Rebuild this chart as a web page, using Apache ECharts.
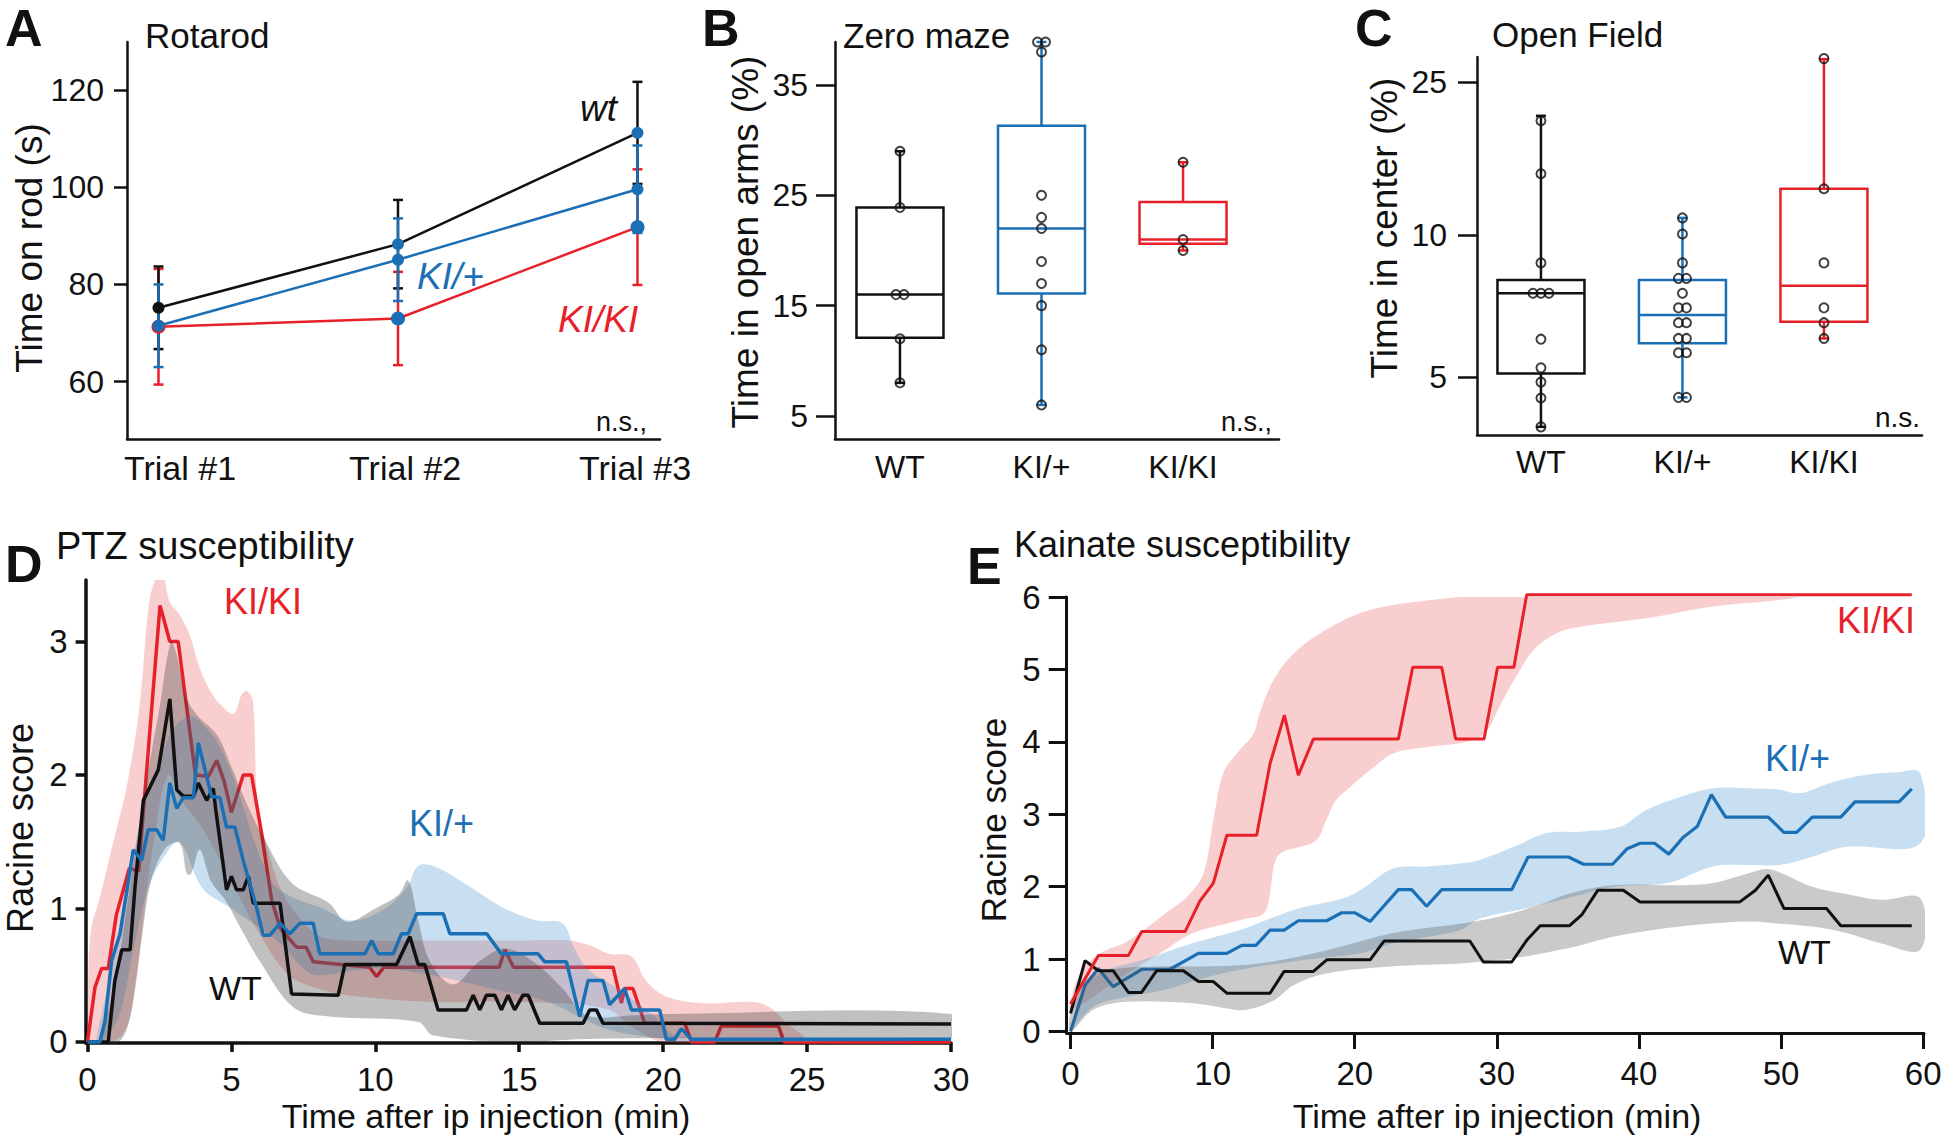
<!DOCTYPE html>
<html><head><meta charset="utf-8">
<script src="https://cdn.jsdelivr.net/npm/echarts@6/dist/echarts.min.js"></script>
<style>html,body{margin:0;padding:0;background:#fff}#c{width:1950px;height:1139px}</style>
</head><body><div id="c"></div>
<script>
// ================= DATA =================
// Panel A – Rotarod (mean ± SEM)
const trialNames = ['Trial #1', 'Trial #2', 'Trial #3'];
const rotarodWT = [75.2, 88.3, 111.2];
const rotarodWTsem = [8.5, 9.1, 10.5];
const rotarodHet = [71.5, 85.1, 99.6];
const rotarodHetSem = [8.5, 8.5, 9.0];
const rotarodHom = [71.3, 73.0, 91.8];
const rotarodHomSem = [11.9, 9.6, 11.9];

// Panel B – Zero maze (% time in open arms). box = [min, Q1, median, Q3, max]
const groupNames = ['WT', 'KI/+', 'KI/KI'];
const mazeBoxWT = [8.0, 12.1, 16.0, 23.9, 29.0];
const mazeBoxHet = [6.0, 16.1, 22.0, 31.3, 38.9];
const mazeBoxHom = [20.0, 20.6, 21.0, 24.4, 28.0];
const mazePtsWT = [29.0, 23.9, 16.0, 16.0, 12.0, 8.0];
const mazePtsHet = [38.9, 38.9, 38.0, 25.0, 23.0, 22.0, 19.0, 17.0, 15.0, 11.0, 6.0];
const mazePtsHom = [28.0, 21.0, 20.0];

// Panel C – Open field (% time in center)
const fieldBoxWT = [4.13, 5.08, 7.35, 7.86, 20.2];
const fieldBoxHet = [4.61, 5.79, 6.61, 7.86, 11.0];
const fieldBoxHom = [5.92, 6.4, 7.64, 13.0, 28.9];
const fieldPtsWT = [19.6, 14.2, 8.6, 7.35, 7.35, 7.35, 5.9, 5.2, 4.9, 4.6, 4.13];
const fieldPtsHet = [11.0, 10.05, 8.6, 7.93, 7.93, 7.35, 6.84, 6.84, 6.37, 6.37, 5.92, 5.92, 5.55, 5.55, 4.61, 4.61];
const fieldPtsHom = [29.0, 13.0, 8.6, 6.84, 6.37, 5.92];
const fieldTicks = [5, 10, 25];

// Panel D – PTZ susceptibility, [time (min), Racine score]
const ptzHom = [[0,0],[0.26,0.41],[0.49,0.55],[0.72,0.55],[1.0,0.95],[1.45,1.3],[1.78,1.28],[1.9,1.62],[2.52,3.27],[2.86,3.0],[3.15,3.0],[3.45,2.5],[3.75,2.0],[4.2,1.99],[4.49,2.11],[4.75,1.95],[5.0,1.72],[5.41,2.0],[5.7,2.0],[6.05,1.56],[6.4,1.06],[6.7,0.85],[7.26,0.71],[7.6,0.71],[7.84,0.6],[9.8,0.56],[10.04,0.49],[10.3,0.56],[14.3,0.56],[14.5,0.69],[14.8,0.56],[18.26,0.56],[18.55,0.29],[18.66,0.4],[18.95,0.4],[19.36,0.14],[20.75,0.14],[20.98,0],[21.79,0],[22.02,0.12],[24.0,0.12],[24.2,0],[30,0]];
const ptzHet = [[0,0],[0.43,0],[0.61,0.16],[0.84,0.61],[1.13,0.81],[1.59,1.44],[1.88,1.36],[2.11,1.59],[2.4,1.59],[2.63,1.51],[2.86,1.94],[3.1,1.75],[3.33,1.83],[3.68,1.83],[3.85,2.24],[4.14,1.99],[4.31,1.84],[4.6,1.83],[4.83,1.61],[5.12,1.61],[5.41,1.36],[5.87,1.01],[6.1,0.8],[6.34,0.8],[6.69,0.89],[7.03,0.81],[7.38,0.89],[7.84,0.89],[8.07,0.66],[9.64,0.66],[9.87,0.76],[10.1,0.66],[10.62,0.66],[10.91,0.81],[11.14,0.81],[11.43,0.96],[12.36,0.96],[12.59,0.81],[13.87,0.81],[14.38,0.66],[15.65,0.66],[15.89,0.6],[16.64,0.6],[17.1,0.19],[17.39,0.46],[17.91,0.46],[18.14,0.28],[18.66,0.4],[18.9,0.24],[19.88,0.24],[20.11,0.02],[20.4,0.02],[20.63,0.1],[20.98,0.02],[30,0.02]];
const ptzWT = [[0,0],[0.72,0],[0.95,0.46],[1.19,0.69],[1.48,0.69],[1.65,1.16],[1.94,1.81],[2.17,1.91],[2.46,2.04],[2.86,2.57],[3.1,1.89],[3.33,1.84],[3.68,1.84],[3.85,1.94],[4.14,1.81],[4.37,1.9],[4.45,1.75],[4.83,1.14],[5.0,1.24],[5.18,1.14],[5.41,1.14],[5.59,1.24],[5.76,1.04],[6.69,1.04],[7.09,0.36],[8.71,0.35],[8.94,0.58],[10.74,0.58],[11.2,0.79],[11.49,0.58],[11.72,0.58],[12.18,0.24],[13.17,0.24],[13.4,0.35],[13.63,0.24],[13.86,0.35],[14.15,0.35],[14.38,0.24],[14.61,0.35],[14.84,0.24],[15.13,0.35],[15.31,0.35],[15.71,0.14],[17.22,0.14],[17.45,0.24],[17.68,0.24],[17.91,0.14],[30,0.135]];
// PTZ error bands (upper / lower edges)
const ptzHomUp = [[0,0.09],[0.1,0.8],[0.45,1.1],[0.9,1.5],[1.35,1.9],[1.8,2.5],[2.15,3.3],[2.45,3.5],[2.65,3.48],[2.85,3.3],[3.2,3.2],[3.55,3.05],[3.9,2.8],[4.35,2.6],[4.85,2.48],[5.1,2.46],[5.35,2.6],[5.55,2.63],[5.75,2.55],[5.9,1.8],[6.2,1.5],[6.7,1.15],[7.3,0.95],[8,0.8],[9,0.76],[12,0.76],[15,0.76],[16.7,0.76],[17.5,0.72],[18.1,0.66],[18.9,0.64],[19.4,0.46],[20.1,0.34],[21.4,0.29],[23.1,0.3],[23.7,0.26],[24.3,0.14],[25,0.02]];
const ptzHomLo = [[0,0],[1.2,0.05],[1.7,0.5],[1.9,0.85],[2.3,1.5],[2.8,2.0],[3.3,1.8],[4,1.6],[5,1.2],[6,0.8],[7,0.5],[8,0.4],[9,0.35],[12,0.3],[15,0.3],[18,0.25],[19,0.1],[20,0],[25,0]];
const ptzHetUp = [[0.3,0],[0.7,0.4],[1.2,0.9],[1.6,1.4],[2.0,1.8],[2.5,2.1],[3.0,2.35],[3.56,2.44],[4.0,2.38],[4.6,2.21],[5.2,1.9],[5.8,1.5],[6.4,1.2],[6.9,1.11],[7.5,1.05],[8.07,1.01],[9.2,0.91],[10.4,1.01],[11.1,1.16],[11.5,1.32],[12.1,1.31],[13.3,1.16],[14.4,1.01],[15.6,0.91],[16.5,0.89],[16.9,0.71],[17.4,0.54],[18.5,0.39],[19.6,0.21],[20.55,0.04],[30,0.03]];
const ptzHetLo = [[0.5,0],[1.1,0.2],[1.6,0.7],[2.1,1.15],[2.7,1.4],[3.2,1.5],[4,1.15],[5,1.0],[6,0.85],[6.7,0.74],[7.5,0.55],[8,0.5],[10,0.55],[12,0.5],[14,0.4],[16,0.3],[18,0.1],[20,0.02],[21,0],[30,0.01]];
const ptzWTUp = [[0.5,0.02],[1.0,0.5],[1.5,1.2],[2.0,1.9],[2.5,2.5],[2.9,3.0],[3.1,2.9],[3.4,2.6],[3.8,2.45],[4.5,2.3],[5.0,2.06],[5.5,1.8],[6.1,1.54],[7.1,1.19],[8.4,1.04],[9,0.9],[10,1.0],[10.8,1.1],[11.14,1.21],[11.5,0.9],[11.9,0.6],[12.7,0.43],[13.6,0.6],[14.5,0.7],[15.5,0.6],[16.5,0.4],[17.35,0.2],[19,0.2],[20,0.21],[30,0.21]];
const ptzWTLo = [[0.5,0],[1.1,0],[1.5,0.2],[1.9,0.8],[2.2,1.2],[2.7,1.45],[3.2,1.49],[3.45,1.26],[3.6,1.26],[3.9,1.44],[4.3,1.2],[4.8,1.06],[5.2,0.9],[6,0.6],[7.15,0.26],[8.4,0.19],[11.5,0.15],[12,0.05],[15,0],[17,0.02],[20,0.03],[30,0.03]];

// Panel E – Kainate susceptibility, [time (min), Racine score]
const kaHom = [[0,0.38],[1.96,1.05],[4.07,1.05],[5.01,1.38],[8.06,1.38],[9.1,1.8],[10.05,2.05],[11.0,2.71],[13.1,2.71],[14.04,3.7],[15.05,4.37],[16.03,3.54],[17.09,4.04],[23.07,4.04],[24.08,5.03],[26.12,5.03],[27.1,4.04],[29.1,4.04],[30.05,5.03],[31.2,5.03],[32.1,6.03],[59.2,6.03]];
const kaHet = [[0,0],[1.02,0.64],[1.96,0.87],[3.0,0.62],[5.01,0.86],[7.0,0.86],[9.0,1.08],[11.0,1.08],[12.05,1.19],[13.05,1.19],[14.04,1.4],[15.03,1.4],[16.03,1.53],[18.03,1.53],[19.08,1.64],[20.02,1.64],[21.08,1.52],[23.07,1.96],[24.01,1.96],[25.06,1.73],[26.12,1.96],[31.05,1.96],[32.2,2.41],[35.04,2.41],[36.1,2.31],[38.15,2.31],[39.14,2.52],[40.08,2.6],[41.1,2.6],[42.1,2.45],[43.1,2.68],[44.1,2.83],[45.1,3.27],[46.1,2.96],[49.1,2.96],[50.2,2.75],[51.1,2.75],[52.2,2.96],[54.2,2.96],[55.2,3.17],[58.3,3.17],[59.2,3.35]];
const kaWT = [[0,0.25],[1.02,0.98],[1.96,0.84],[3.0,0.84],[4.07,0.54],[5.0,0.54],[6.06,0.84],[7.94,0.84],[9.0,0.69],[10.05,0.69],[11.0,0.53],[14.04,0.53],[15.03,0.83],[17.09,0.83],[18.03,0.99],[21.08,0.99],[22.06,1.25],[28.1,1.25],[29.05,0.96],[31.05,0.96],[32.1,1.26],[33.05,1.46],[35.1,1.46],[35.97,1.61],[37.1,1.95],[38.9,1.95],[40.08,1.79],[47.1,1.79],[48.2,1.95],[49.1,2.16],[50.2,1.7],[53.2,1.7],[54.2,1.46],[59.2,1.46]];
const kaHomUp = [[0,0.43],[0.67,0.8],[2.07,1.08],[3.95,1.24],[7.0,1.68],[8.2,1.86],[9.35,2.18],[10.05,2.92],[10.75,3.57],[11.7,3.84],[12.9,4.12],[13.3,4.39],[14.3,4.86],[15.7,5.22],[18,5.55],[20.4,5.78],[22.7,5.89],[25.1,5.95],[27.4,6.0],[30.2,6.04],[40,6.06],[52.2,6.05]];
const kaHomLo = [[0,0.3],[1.6,0.48],[3.95,0.8],[6.3,1.08],[8.6,1.36],[11,1.49],[12.4,1.56],[13.6,1.63],[14.04,1.91],[14.3,2.28],[14.75,2.46],[16.2,2.55],[17.3,2.64],[18,2.92],[18.7,3.2],[19.7,3.38],[21.1,3.61],[22.7,3.84],[25.1,3.93],[27.4,3.98],[28.8,4.07],[29.5,4.21],[30.2,4.49],[31.2,4.85],[32.6,5.27],[34.2,5.5],[35.9,5.59],[40.6,5.71],[45.2,5.87],[49.9,5.96],[52.2,6.03]];
const kaHetUp = [[0,0],[0.67,0.48],[2.07,0.8],[5.1,0.99],[8.6,1.22],[12.2,1.42],[15.7,1.68],[19.2,1.84],[20.4,1.95],[22.7,2.25],[25.1,2.28],[27.4,2.32],[28.8,2.37],[31.2,2.55],[33.5,2.74],[35.9,2.76],[38.7,2.83],[40.5,3.06],[42.9,3.24],[45.2,3.36],[47.6,3.36],[49.9,3.34],[51.3,3.29],[53.4,3.43],[55.8,3.54],[58.1,3.58],[59.8,3.57]];
const kaHetLo = [[0,0],[1.6,0.34],[3.95,0.48],[6.5,0.57],[9.8,0.76],[13.3,0.9],[16.9,1.0],[20.4,1.08],[22.7,1.22],[27.4,1.4],[28.8,1.56],[32,1.7],[35.9,1.89],[38.2,2.0],[42,2.05],[45.2,2.28],[47.6,2.3],[49.9,2.3],[52,2.4],[54.6,2.55],[59.8,2.6]];
const kaWTUp = [[0,0.25],[1.1,0.71],[2.8,0.85],[6.3,0.9],[10,0.9],[13.3,0.94],[18,1.12],[22.7,1.36],[27.4,1.49],[30.2,1.59],[33,1.75],[35,1.9],[38.2,2.02],[42.9,2.02],[45.2,2.05],[47.6,2.18],[49.2,2.24],[52.2,2.0],[54.6,1.9],[57,1.82],[59.8,1.84]];
const kaWTLo = [[0,0],[1.6,0.3],[3.95,0.41],[8.6,0.39],[11,0.32],[12.4,0.3],[14.3,0.43],[15.7,0.64],[18,0.8],[22.7,0.9],[27.4,0.94],[30.2,0.99],[31.2,1.01],[35,1.15],[38.2,1.31],[42.9,1.45],[47.6,1.52],[49.9,1.49],[52.2,1.45],[54.6,1.36],[57,1.22],[59.8,1.13]];

const ptzTicksX = [0, 5, 10, 15, 20, 25, 30];
const ptzTicksY = [0, 1, 2, 3];
const kaTicksX = [0, 10, 20, 30, 40, 50, 60];
const kaTicksY = [0, 1, 2, 3, 4, 5, 6];

// ================= STYLE / BUILD =================
const FONT = '"Liberation Sans", Arial, Helvetica, sans-serif';
const RED = '#e8202a', BLUE = '#1b6fb5', BLACK = '#111111';
const PINK_BAND = 'rgba(232,80,80,0.28)', BLUE_BAND = 'rgba(70,150,205,0.30)';
const GRAY_BAND_D = 'rgba(60,60,60,0.32)', GRAY_BAND_E = 'rgba(80,80,80,0.30)';
const fieldT = v => Math.log(v - 2);   // open-field axis transform
const ident = v => v;

function axisLineStyle(w) { return { show: true, onZero: false, lineStyle: { color: BLACK, width: w } }; }

function xAx(gi, min, max, ticks, labelPos, fmt, tickLen, margin, fs, lw) {
  return {
    gridIndex: gi, type: 'value', min, max,
    axisLine: axisLineStyle(lw), splitLine: { show: false },
    axisTick: tickLen ? { show: true, customValues: ticks, length: tickLen, lineStyle: { color: BLACK, width: lw } } : { show: false },
    axisLabel: { customValues: labelPos, formatter: fmt, margin, fontSize: fs, color: BLACK, fontFamily: FONT }
  };
}
function yAx(gi, min, max, ticks, fmt, tickLen, margin, fs, lw) {
  return {
    gridIndex: gi, type: 'value', min, max,
    axisLine: axisLineStyle(lw), splitLine: { show: false },
    axisTick: { show: true, customValues: ticks, length: tickLen, lineStyle: { color: BLACK, width: lw } },
    axisLabel: { customValues: ticks, formatter: fmt, margin, fontSize: fs, color: BLACK, fontFamily: FONT }
  };
}

function errSeries(gi, means, sems, color, z) {
  return {
    type: 'custom', xAxisIndex: gi, yAxisIndex: gi, z, clip: false, silent: true,
    encode: { x: 0, y: [1, 2] },
    data: means.map((m, i) => [i, m - sems[i], m + sems[i]]),
    renderItem: (p, api) => {
      const lo = api.coord([api.value(0), api.value(1)]);
      const hi = api.coord([api.value(0), api.value(2)]);
      const cap = 5, st = { stroke: color, lineWidth: 2.5 };
      return { type: 'group', children: [
        { type: 'line', shape: { x1: lo[0], y1: lo[1], x2: hi[0], y2: hi[1] }, style: st },
        { type: 'line', shape: { x1: lo[0] - cap, y1: lo[1], x2: lo[0] + cap, y2: lo[1] }, style: st },
        { type: 'line', shape: { x1: hi[0] - cap, y1: hi[1], x2: hi[0] + cap, y2: hi[1] }, style: st }
      ] };
    }
  };
}

function meanLine(gi, means, color, markerColors, z, borderColors) {
  return {
    type: 'line', xAxisIndex: gi, yAxisIndex: gi, z, silent: true,
    symbol: 'circle', symbolSize: 12, showSymbol: true,
    lineStyle: { color, width: 2.5 },
    data: means.map((m, i) => ({ value: [i, m], itemStyle: { color: markerColors[i], borderColor: borderColors ? borderColors[i] : markerColors[i], borderWidth: borderColors ? 2 : 0 } }))
  };
}

function boxSeries(gi, boxes, colors, tf, z) {
  return {
    type: 'custom', xAxisIndex: gi, yAxisIndex: gi, z, clip: false, silent: true,
    encode: { x: 0, y: [1, 2, 3, 4, 5] },
    data: boxes.map((b, i) => [i].concat(b.map(tf))),
    renderItem: (p, api) => {
      const x = api.value(0);
      const c = k => api.coord([x, api.value(k)]);
      const pMin = c(1), pQ1 = c(2), pMd = c(3), pQ3 = c(4), pMax = c(5);
      const cx = pMd[0], hw = 43.5, cap = 5;
      const color = colors[p.dataIndex];
      const ls = { stroke: color, lineWidth: 2.5 };
      return { type: 'group', children: [
        { type: 'line', shape: { x1: cx, y1: pQ3[1], x2: cx, y2: pMax[1] }, style: ls },
        { type: 'line', shape: { x1: cx, y1: pQ1[1], x2: cx, y2: pMin[1] }, style: ls },
        { type: 'line', shape: { x1: cx - cap, y1: pMax[1], x2: cx + cap, y2: pMax[1] }, style: ls },
        { type: 'line', shape: { x1: cx - cap, y1: pMin[1], x2: cx + cap, y2: pMin[1] }, style: ls },
        { type: 'rect', shape: { x: cx - hw, y: pQ3[1], width: 2 * hw, height: pQ1[1] - pQ3[1] }, style: { stroke: color, lineWidth: 2.5, fill: '#ffffff' } },
        { type: 'line', shape: { x1: cx - hw, y1: pMd[1], x2: cx + hw, y2: pMd[1] }, style: ls }
      ] };
    }
  };
}

// spread identical values side by side
function dodge(vals, center, step, tf) {
  const counts = {}, seen = {};
  vals.forEach(v => { const k = v.toFixed(2); counts[k] = (counts[k] || 0) + 1; });
  return vals.map(v => {
    const k = v.toFixed(2), n = counts[k], i = (seen[k] = (seen[k] || 0) + 1) - 1;
    return [center + (i - (n - 1) / 2) * step, tf(v)];
  });
}
function pointSeries(gi, pts, z) {
  return {
    type: 'scatter', xAxisIndex: gi, yAxisIndex: gi, z, silent: true,
    symbol: 'circle', symbolSize: 9,
    itemStyle: { color: 'rgba(0,0,0,0)', borderColor: BLACK, borderWidth: 2 },
    data: pts
  };
}

function band(gi, up, lo, color, z) {
  return {
    type: 'custom', xAxisIndex: gi, yAxisIndex: gi, z, clip: true, silent: true,
    encode: { x: 0, y: 1 }, data: [[0, 0]],
    renderItem: (p, api) => {
      const pts = up.map(q => api.coord(q)).concat(lo.slice().reverse().map(q => api.coord(q)));
      return { type: 'polygon', shape: { points: pts, smooth: 0.35 }, style: { fill: color } };
    }
  };
}
function trace(gi, data, color, z, w) {
  return {
    type: 'line', xAxisIndex: gi, yAxisIndex: gi, z, clip: false, silent: true,
    symbol: 'none', lineStyle: { color, width: w }, data
  };
}

function txt(text, x, y, size, o) {
  o = o || {};
  return { type: 'text', x, y, rotation: o.rot || 0, z: 100, silent: true,
    style: { text, fill: o.color || BLACK, font: (o.italic ? 'italic ' : '') + (o.bold ? 'bold ' : '') + size + 'px ' + FONT,
      align: o.align || 'left', verticalAlign: 'middle' } };
}

const STEP = 0.0565;
const tickFmt = v => String(Math.round(v));

const option = {
  backgroundColor: '#ffffff',
  animation: false,
  grid: [
    { left: 127, top: 42, width: 533, height: 397 },
    { left: 835, top: 42, width: 444, height: 397 },
    { left: 1477, top: 57, width: 445, height: 378 },
    { left: 85.6, top: 580, width: 865.4, height: 463 },
    { left: 1066.7, top: 597, width: 857.3, height: 436 }
  ],
  xAxis: [
    xAx(0, -0.1315, 2.094, [0, 1, 2], [0.09, 1.03, 1.99], v => trialNames[Math.round(v)], 0, 12, 34, 2.5),
    xAx(1, -0.459, 2.678, [0, 1, 2], [0, 1, 2], v => groupNames[Math.round(v)], 0, 12, 32, 2.5),
    xAx(2, -0.452, 2.693, [0, 1, 2], [0, 1, 2], v => groupNames[Math.round(v)], 0, 11, 32, 2.5),
    xAx(3, -0.066, 30, ptzTicksX, ptzTicksX, tickFmt, 9, 20, 33, 3.5),
    xAx(4, -0.27, 60.06, kaTicksX, kaTicksX, tickFmt, 16, 24, 33, 3)
  ],
  yAxis: [
    yAx(0, 48.2, 129.9, [60, 80, 100, 120], tickFmt, 13, 23, 32, 2.5),
    yAx(1, 2.91, 38.9, [5, 15, 25, 35], tickFmt, 19, 27, 32, 2.5),
    yAx(2, 0.70, 3.307, fieldTicks.map(fieldT), v => String(Math.round(Math.exp(v) + 2)), 19, 30, 32, 2.5),
    yAx(3, -0.008, 3.461, ptzTicksY, tickFmt, 10, 18, 33, 3.5),
    yAx(4, -0.02, 6.0, kaTicksY, tickFmt, 18, 26, 33, 3)
  ],
  series: [
    // A
    errSeries(0, rotarodHom, rotarodHomSem, RED, 2),
    errSeries(0, rotarodWT, rotarodWTsem, BLACK, 3),
    errSeries(0, rotarodHet, rotarodHetSem, BLUE, 4),
    meanLine(0, rotarodWT, BLACK, [BLACK, BLUE, BLUE], 5),
    meanLine(0, rotarodHom, RED, [BLUE, BLUE, BLUE], 6, [RED, BLUE, BLUE]),
    meanLine(0, rotarodHet, BLUE, [BLUE, BLUE, BLUE], 7),
    // B
    boxSeries(1, [mazeBoxWT, mazeBoxHet, mazeBoxHom], [BLACK, BLUE, RED], ident, 2),
    pointSeries(1, dodge(mazePtsWT, 0, STEP, ident)
      .concat(dodge(mazePtsHet, 1, STEP, ident))
      .concat(dodge(mazePtsHom, 2, STEP, ident)), 5),
    // C
    boxSeries(2, [fieldBoxWT, fieldBoxHet, fieldBoxHom], [BLACK, BLUE, RED], fieldT, 2),
    pointSeries(2, dodge(fieldPtsWT, 0, STEP, fieldT)
      .concat(dodge(fieldPtsHet, 1, STEP, fieldT))
      .concat(dodge(fieldPtsHom, 2, STEP, fieldT)), 5),
    // D
    band(3, ptzHomUp, ptzHomLo, PINK_BAND, 1),
    trace(3, ptzHom, RED, 2, 3.5),
    band(3, ptzHetUp, ptzHetLo, BLUE_BAND, 3),
    band(3, ptzWTUp, ptzWTLo, GRAY_BAND_D, 4),
    trace(3, ptzWT, BLACK, 5, 3.5),
    trace(3, ptzHet, BLUE, 6, 3.5),
    // E
    band(4, kaHomUp, kaHomLo, PINK_BAND, 1),
    band(4, kaHetUp, kaHetLo, BLUE_BAND, 2),
    trace(4, kaHet, BLUE, 3, 3.2),
    band(4, kaWTUp, kaWTLo, GRAY_BAND_E, 4),
    trace(4, kaWT, BLACK, 5, 3),
    trace(4, kaHom, RED, 6, 3)
  ],
  graphic: [
    txt('A', 5, 28, 52, { bold: true }),
    txt('B', 702, 28, 52, { bold: true }),
    txt('C', 1355, 28, 52, { bold: true }),
    txt('D', 5, 564, 52, { bold: true }),
    txt('E', 967, 566, 52, { bold: true }),
    txt('Rotarod', 145, 35, 35),
    txt('Zero maze', 843, 35, 35),
    txt('Open Field', 1492, 34, 35),
    txt('PTZ susceptibility', 56, 546, 38),
    txt('Kainate susceptibility', 1014, 544, 36),
    txt('Time on rod (s)', 29, 248, 37, { rot: Math.PI / 2, align: 'center' }),
    txt('Time in open arms (%)', 745, 242, 37, { rot: Math.PI / 2, align: 'center' }),
    txt('Time in center (%)', 1384, 228, 37, { rot: Math.PI / 2, align: 'center' }),
    txt('Racine score', 20, 828, 36, { rot: Math.PI / 2, align: 'center' }),
    txt('Racine score', 993, 820, 35, { rot: Math.PI / 2, align: 'center' }),
    txt('Time after ip injection (min)', 486, 1116, 34, { align: 'center' }),
    txt('Time after ip injection (min)', 1497, 1116, 34, { align: 'center' }),
    txt('wt', 580, 108, 37, { italic: true }),
    txt('KI/+', 417, 276, 37, { italic: true, color: BLUE }),
    txt('KI/KI', 558, 319, 37, { italic: true, color: RED }),
    txt('n.s.,', 596, 422, 27),
    txt('n.s.,', 1221, 422, 27),
    txt('n.s.', 1875, 417, 28),
    txt('KI/KI', 224, 601, 36, { color: RED }),
    txt('KI/+', 409, 823, 36, { color: BLUE }),
    txt('WT', 209, 988, 34),
    txt('KI/KI', 1837, 620, 36, { color: RED }),
    txt('KI/+', 1765, 758, 36, { color: BLUE }),
    txt('WT', 1778, 952, 34)
  ]
};

const chart = echarts.init(document.getElementById('c'), null, { renderer: 'svg', width: 1950, height: 1139 });
chart.setOption(option);
</script>
</body></html>
